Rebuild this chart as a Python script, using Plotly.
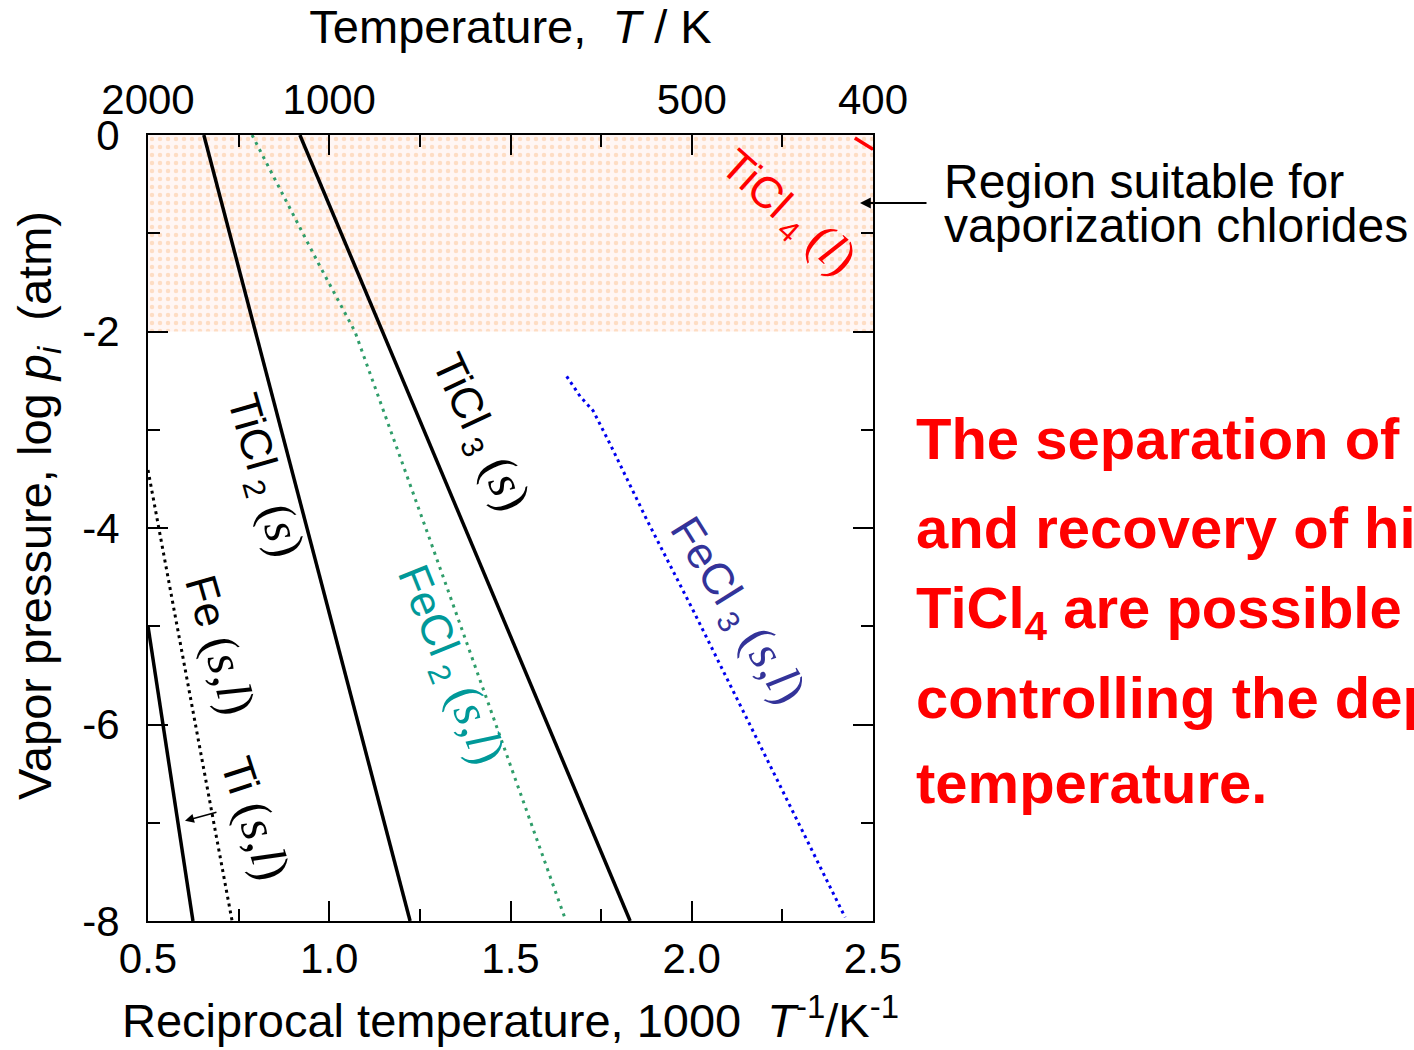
import plotly.graph_objects as go

# ---- vapor-pressure curves: x = 1000/T (1/K), y = log p (atm) ----
ticl2_x = [0.654, 1.223]
ticl2_y = [0.0, -8.0]

ticl3_x = [0.919, 1.830]
ticl3_y = [0.0, -8.0]

ti_x = [0.500, 0.624]
ti_y = [-5.00, -8.00]

fe_x = [0.500, 0.732]
fe_y = [-3.41, -8.00]

fecl2_x = [0.787, 0.869, 0.970, 1.071, 1.281, 1.653]
fecl2_y = [0.000, -0.587, -1.306, -2.002, -4.153, -8.000]

fecl3_x = [1.655, 1.692, 1.728, 1.774, 1.876, 2.004, 2.188, 2.423]
fecl3_y = [-2.456, -2.660, -2.807, -3.140, -3.916, -4.840, -6.208, -7.963]

ticl4_x = [2.450, 2.500]
ticl4_y = [-0.030, -0.145]

# region where chloride vaporization is practical (log p >= -2)
region_x = [0.5, 2.5, 2.5, 0.5, 0.5]
region_y = [0.0, 0.0, -2.0, -2.0, 0.0]

# axis ticks
recip_ticks = [0.5, 1.0, 1.5, 2.0, 2.5]
temp_tick_pos = [0.5, 1.0, 2.0, 2.5]
temp_tick_text = ["2000", "1000", "500", "400"]
logp_ticks = [0, -2, -4, -6, -8]
logp_tick_text = ["0", "-2", "-4", "-6", "-8"]

SANS = "Liberation Sans, Arial, sans-serif"

fig = go.Figure()

fig.add_trace(go.Scatter(
    x=region_x, y=region_y, mode="lines", fill="toself",
    line=dict(width=0, color="rgba(0,0,0,0)"),
    fillcolor="#fff6f4",
    fillpattern=dict(shape=".", fgcolor="#fbc494", bgcolor="#fff6f4",
                     size=8, solidity=0.25),
    hoverinfo="skip", showlegend=False))

solid = dict(color="black", width=3.5)
fig.add_trace(go.Scatter(x=ticl2_x, y=ticl2_y, mode="lines", line=solid, showlegend=False))
fig.add_trace(go.Scatter(x=ticl3_x, y=ticl3_y, mode="lines", line=solid, showlegend=False))
fig.add_trace(go.Scatter(x=ti_x, y=ti_y, mode="lines", line=solid, showlegend=False))
fig.add_trace(go.Scatter(x=fe_x, y=fe_y, mode="lines",
                         line=dict(color="black", width=3, dash="3px,4px"), showlegend=False))
fig.add_trace(go.Scatter(x=fecl2_x, y=fecl2_y, mode="lines",
                         line=dict(color="#2f9d6a", width=3, dash="3px,5px"), showlegend=False))
fig.add_trace(go.Scatter(x=fecl3_x, y=fecl3_y, mode="lines",
                         line=dict(color="#0000ee", width=3, dash="3px,4px"), showlegend=False))
fig.add_trace(go.Scatter(x=ticl4_x, y=ticl4_y, mode="lines",
                         line=dict(color="#ff0000", width=3.5), showlegend=False))

# carrier trace so the temperature axis on top is drawn
fig.add_trace(go.Scatter(x=[0.5, 2.5], y=[-20, -20], xaxis="x2", mode="markers",
                         marker=dict(opacity=0), hoverinfo="skip", showlegend=False))

tick_font = dict(family=SANS, size=42, color="black")
title_font = dict(family=SANS, size=47, color="black")
axis_common = dict(showline=True, linecolor="black", linewidth=2, mirror="ticks",
                   ticks="inside", ticklen=20, tickwidth=2, tickcolor="black",
                   showgrid=False, zeroline=False, tickfont=tick_font)

fig.update_layout(
    width=1414, height=1050,
    margin=dict(l=148, r=541, t=135, b=129),
    paper_bgcolor="white", plot_bgcolor="white",
    showlegend=False,
    xaxis=dict(range=[0.5, 2.5], tickvals=recip_ticks, tickformat=".1f",
               minor=dict(ticks="inside", dtick=0.25, tick0=0.5, ticklen=12,
                          tickwidth=2, tickcolor="black", showgrid=False),
               title=dict(text="Reciprocal temperature, 1000  <i>T</i><sup>-1</sup>/K<sup>-1</sup>",
                          font=title_font, standoff=23),
               **axis_common),
    xaxis2=dict(range=[0.5, 2.5], overlaying="x", side="top", anchor="y",
                tickvals=temp_tick_pos, ticktext=temp_tick_text, ticks="",
                ticklabelstandoff=12,
                showline=False, showgrid=False, zeroline=False, tickfont=tick_font,
                title=dict(text="Temperature,  <i>T</i> / K", font=title_font, standoff=18)),
    yaxis=dict(range=[-8, 0], tickvals=logp_ticks, ticktext=logp_tick_text,
               ticklabelstandoff=18,
               minor=dict(ticks="inside", dtick=1, tick0=0, ticklen=12, tickwidth=2,
                          tickcolor="black", showgrid=False),
               **axis_common),
)

annotations = []

# y-axis title
annotations.append(dict(
    text="Vapor pressure, log <i>p</i><sub><i>i</i></sub>  (atm)",
    xref="paper", yref="paper", x=(38 - 148) / 725, y=(921 - 506) / 786,
    textangle=-90, showarrow=False, xanchor="center", yanchor="middle",
    font=title_font))


def curve_label(text, x, y, angle, color, size=44):
    annotations.append(dict(text=text, x=x, y=y, xref="x", yref="y", textangle=angle,
                            showarrow=False, xanchor="center", yanchor="middle",
                            font=dict(family=SANS, size=size, color=color)))


def serif(t):
    # phase markers such as (s) and (s,l) are set in a serif face
    return '<span style="font-family:\'Liberation Serif\', serif; font-size:50px">%s</span>' % t


curve_label("TiCl<sub> 2</sub>" + serif(" (<i>s</i>)"), 0.820, -3.47, 74, "black")
curve_label("TiCl<sub> 3</sub>" + serif(" (<i>s</i>)"), 1.416, -3.03, 65, "black")
curve_label("FeCl<sub> 2</sub>" + serif(" (<i>s</i>,<i>l</i>)"), 1.333, -5.39, 68, "#009999")
curve_label("FeCl<sub> 3</sub>" + serif(" (<i>s</i>,<i>l</i>)"), 2.125, -4.84, 58, "#333399")
curve_label("Fe " + serif("(<i>s</i>,<i>l</i>)"), 0.701, -5.19, 74, "black")
curve_label("Ti " + serif("(<i>s</i>,<i>l</i>)"), 0.798, -6.95, 72, "black")
curve_label("TiCl<sub> 4</sub>" + serif(" (<i>l</i>)"), 2.266, -0.79, 42, "#ff0000")

# pointer from the Ti label to its curve
annotations.append(dict(x=0.602, y=-6.98, ax=0.693, ay=-6.89, xref="x", yref="y",
                        axref="x", ayref="y", text="", showarrow=True,
                        arrowhead=2, arrowsize=1.2, arrowwidth=1.5, arrowcolor="black"))

# pointer to the shaded region
annotations.append(dict(x=(860 - 148) / 725, y=(921 - 203) / 786, ax=68, ay=0,
                        xref="paper", yref="paper", axref="pixel", ayref="pixel",
                        text="", showarrow=True, arrowhead=2, arrowsize=1.2,
                        arrowwidth=1.8, arrowcolor="black"))

for line, py in [("Region suitable for", 181), ("vaporization chlorides", 226)]:
    annotations.append(dict(text=line, xref="paper", yref="paper",
                            x=(942 - 148) / 725, y=(921 - py) / 786,
                            xanchor="left", yanchor="middle", showarrow=False,
                            font=dict(family=SANS, size=48, color="black")))

message = [
    ("The separation of FeCl<sub>3</sub>", 443),
    ("and recovery of high-purity", 527),
    ("TiCl<sub>4</sub> are possible by", 612),
    ("controlling the deposition", 697),
    ("temperature.", 782),
]
for line, py in message:
    annotations.append(dict(text="<b>%s</b>" % line, xref="paper", yref="paper",
                            x=(914 - 148) / 725, y=(921 - py) / 786,
                            xanchor="left", yanchor="middle", showarrow=False,
                            font=dict(family=SANS, size=58, color="#ff0000")))

fig.update_layout(annotations=annotations)

fig.write_html("out.html")
